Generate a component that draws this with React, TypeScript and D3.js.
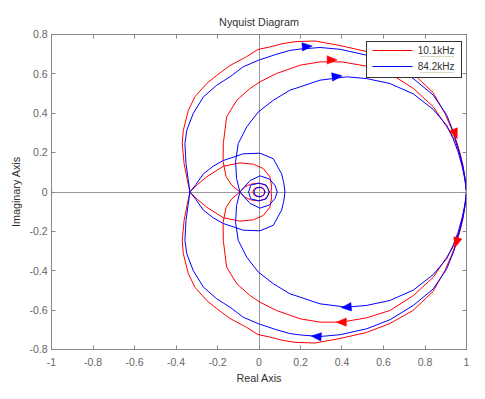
import { useEffect, useRef } from 'react';
import * as d3 from 'd3';

type Pt = [number, number];

// Positive-frequency (lower half) branches.
// The upper half of a Nyquist diagram is the complex conjugate of these.
const redOuter: Pt[] = [
  [1, 0], [0.993, -0.069], [0.983, -0.135], [0.969, -0.196], [0.952, -0.256], [0.925, -0.328],
  [0.896, -0.399], [0.839, -0.505], [0.742, -0.602], [0.631, -0.668], [0.516, -0.714],
  [0.39, -0.744], [0.27, -0.767], [0.178, -0.764], [0.116, -0.754], [0.053, -0.737],
  [-0.005, -0.724], [-0.059, -0.688], [-0.14, -0.642], [-0.204, -0.592], [-0.252, -0.551],
  [-0.308, -0.485], [-0.341, -0.414], [-0.365, -0.312], [-0.37, -0.246], [-0.361, -0.145],
  [-0.347, -0.069], [-0.333, 0],
];
const redInner: Pt[] = [
  [1, 0], [0.993, -0.058], [0.983, -0.119], [0.969, -0.185], [0.945, -0.263], [0.905, -0.331],
  [0.84, -0.433], [0.744, -0.526], [0.631, -0.602], [0.519, -0.639], [0.399, -0.661],
  [0.294, -0.661], [0.198, -0.644], [0.085, -0.602], [0.005, -0.56], [-0.043, -0.526],
  [-0.107, -0.466], [-0.156, -0.382], [-0.172, -0.246], [-0.173, -0.155], [-0.159, -0.079],
  [-0.13, -0.033], [-0.092, 0],
];
const redLens: Pt[] = [
  [-0.333, 0], [-0.299, -0.036], [-0.252, -0.077], [-0.172, -0.131], [-0.092, -0.148],
  [-0.027, -0.141], [0.021, -0.119], [0.053, -0.077], [0.061, -0.026], [0.058, 0],
];
const redLoop: Pt[] = [
  [-0.092, 0], [-0.07, -0.025], [-0.04, -0.04], [0, -0.045], [0.03, -0.035], [0.045, -0.015], [0.048, 0],
];
const redCore: Pt[] = [
  [-0.03, 0], [-0.022, -0.018], [0, -0.024], [0.02, -0.018], [0.03, 0],
];

const blueOuter: Pt[] = [
  [1, 0], [0.993, -0.069], [0.983, -0.13], [0.969, -0.19], [0.953, -0.246], [0.94, -0.297],
  [0.905, -0.39], [0.84, -0.492], [0.744, -0.576], [0.631, -0.649], [0.519, -0.695],
  [0.39, -0.725], [0.294, -0.734], [0.198, -0.726], [0.149, -0.719], [0.085, -0.7],
  [-0.003, -0.669], [-0.076, -0.636], [-0.14, -0.585], [-0.204, -0.542], [-0.268, -0.483],
  [-0.317, -0.399], [-0.348, -0.314], [-0.357, -0.246], [-0.352, -0.145], [-0.342, -0.069],
  [-0.333, 0],
];
const blueInner: Pt[] = [
  [1, 0], [0.993, -0.063], [0.978, -0.135], [0.959, -0.206], [0.935, -0.272], [0.905, -0.338],
  [0.84, -0.419], [0.744, -0.498], [0.631, -0.551], [0.519, -0.576], [0.423, -0.585],
  [0.294, -0.568], [0.198, -0.534], [0.149, -0.517], [0.069, -0.466], [-0.003, -0.407],
  [-0.059, -0.331], [-0.1, -0.246], [-0.113, -0.155], [-0.108, -0.069], [-0.092, 0],
];
const blueLoop: Pt[] = [
  [-0.333, 0], [-0.304, -0.038], [-0.268, -0.092], [-0.222, -0.13], [-0.172, -0.16],
  [-0.076, -0.194], [0.005, -0.197], [0.069, -0.169], [0.109, -0.092], [0.12, -0.043], [0.125, 0],
];
const blueMid: Pt[] = [
  [-0.092, 0], [-0.067, -0.03], [-0.043, -0.058], [0.005, -0.082], [0.05, -0.066], [0.078, -0.032], [0.088, 0],
];
const blueSmall: Pt[] = [
  [-0.05, 0], [-0.04, -0.035], [0, -0.045], [0.035, -0.035], [0.05, 0],
];
const blueCore: Pt[] = [
  [-0.025, 0], [-0.015, -0.02], [0.01, -0.025], [0.025, -0.012], [0.028, 0],
];

const seriesNames = ['10.1kHz', '84.2kHz'];
const seriesColors = ['#ff0000', '#0000ff'];
const redCurves = [redOuter, redInner, redLens, redLoop, redCore];
const blueCurves = [blueOuter, blueInner, blueLoop, blueMid, blueSmall, blueCore];

// arrow positions; direction comes from the curve
const redArrows: { at: Pt; curve: Pt[] }[] = [
  { at: [0.945, 0.297], curve: redOuter },
  { at: [0.35, 0.671], curve: redInner },
  { at: [0.952, -0.255], curve: redOuter },
  { at: [0.399, -0.661], curve: redInner },
];
const blueArrows: { at: Pt; curve: Pt[] }[] = [
  { at: [0.23, 0.739], curve: blueOuter },
  { at: [0.374, 0.587], curve: blueInner },
  { at: [0.278, -0.734], curve: blueOuter },
  { at: [0.423, -0.585], curve: blueInner },
];

const xTicks = [-1, -0.8, -0.6, -0.4, -0.2, 0, 0.2, 0.4, 0.6, 0.8, 1];
const yTicks = [-0.8, -0.6, -0.4, -0.2, 0, 0.2, 0.4, 0.6, 0.8];

const W = 485;
const H = 399;
const margin = { left: 51.5, right: 18.5, top: 34.5, bottom: 49.5 };
const font = 'Arial, Liberation Sans, sans-serif';

const App = () => {
  const svgRef = useRef<SVGSVGElement>(null);

  useEffect(() => {
    if (!svgRef.current) return;
    const svg = d3.select(svgRef.current);
    svg.selectAll('*').remove();

    const x = d3.scaleLinear().domain([-1, 1]).range([margin.left, W - margin.right]);
    const y = d3.scaleLinear().domain([-0.8, 0.8]).range([H - margin.bottom, margin.top]);
    const [x0, x1] = x.range();
    const [y0, y1] = [y(0.8), y(-0.8)];
    const crisp = (v: number) => Math.floor(v) + 0.5;

    svg.append('rect').attr('width', W).attr('height', H).attr('fill', '#fff');

    svg.append('defs').append('clipPath').attr('id', 'plot-clip')
      .append('rect').attr('x', x0).attr('y', y0).attr('width', x1 - x0).attr('height', y1 - y0);

    const plot = svg.append('g').attr('clip-path', 'url(#plot-clip)');

    // axes through the origin
    plot.append('line').attr('x1', x0).attr('x2', x1).attr('y1', crisp(y(0))).attr('y2', crisp(y(0)))
      .attr('stroke', '#9a9a9a').attr('stroke-width', 1);
    plot.append('line').attr('x1', crisp(x(0))).attr('x2', crisp(x(0))).attr('y1', y0).attr('y2', y1)
      .attr('stroke', '#9a9a9a').attr('stroke-width', 1);

    const line = d3.line<Pt>().x(d => x(d[0])).y(d => y(d[1]));
    const mirror = (c: Pt[]): Pt[] => c.map(d => [d[0], -d[1]] as Pt);

    const drawSet = (curves: Pt[][], color: string) => {
      curves.forEach(c => {
        [c, mirror(c)].forEach(p => {
          plot.append('path').attr('d', line(p)).attr('fill', 'none')
            .attr('stroke', color).attr('stroke-width', 1).attr('stroke-linejoin', 'round');
        });
      });
    };
    drawSet(redCurves, seriesColors[0]);
    drawSet(blueCurves, seriesColors[1]);

    // arrowheads: tangent of nearest segment, upper half runs back towards (1,0)
    const drawArrows = (list: { at: Pt; curve: Pt[] }[], color: string) => {
      list.forEach(a => {
        const upper = a.at[1] > 0;
        const c = upper ? mirror(a.curve) : a.curve;
        let best = 0;
        let bestD = Infinity;
        for (let i = 0; i < c.length - 1; i++) {
          const mx = (c[i][0] + c[i + 1][0]) / 2;
          const my = (c[i][1] + c[i + 1][1]) / 2;
          const dd = (mx - a.at[0]) ** 2 + (my - a.at[1]) ** 2;
          if (dd < bestD) { bestD = dd; best = i; }
        }
        let dx = x(c[best + 1][0]) - x(c[best][0]);
        let dy = y(c[best + 1][1]) - y(c[best][1]);
        if (upper) { dx = -dx; dy = -dy; }
        const ang = Math.atan2(dy, dx) * 180 / Math.PI;
        plot.append('path')
          .attr('d', 'M5.5,0 L-4.5,-4.2 L-4.5,4.2 Z')
          .attr('transform', `translate(${x(a.at[0])},${y(a.at[1])}) rotate(${ang})`)
          .attr('fill', color).attr('stroke', color).attr('stroke-width', 0.5);
      });
    };
    drawArrows(redArrows, seriesColors[0]);
    drawArrows(blueArrows, seriesColors[1]);

    // critical point marker
    plot.append('path').attr('d', `M${x(-1) - 3},${crisp(y(0))}h6M${x(-1)},${y(0) - 3}v6`)
      .attr('stroke', '#ff0000').attr('stroke-width', 1.2);

    // frame and ticks
    const axisColor = '#888';
    svg.append('rect').attr('x', x0).attr('y', y0).attr('width', x1 - x0).attr('height', y1 - y0)
      .attr('fill', 'none').attr('stroke', axisColor).attr('stroke-width', 1);
    const tk = 4;
    xTicks.forEach(t => {
      const px = crisp(x(t));
      svg.append('line').attr('x1', px).attr('x2', px).attr('y1', y1).attr('y2', y1 - tk).attr('stroke', axisColor);
      svg.append('line').attr('x1', px).attr('x2', px).attr('y1', y0).attr('y2', y0 + tk).attr('stroke', axisColor);
      svg.append('text').attr('x', x(t)).attr('y', y1 + 16).attr('text-anchor', 'middle')
        .attr('font-family', font).attr('font-size', 10.5)
        .attr('fill', '#666').text(String(t));
    });
    yTicks.forEach(t => {
      const py = crisp(y(t));
      svg.append('line').attr('x1', x0).attr('x2', x0 + tk).attr('y1', py).attr('y2', py).attr('stroke', axisColor);
      svg.append('line').attr('x1', x1).attr('x2', x1 - tk).attr('y1', py).attr('y2', py).attr('stroke', axisColor);
      svg.append('text').attr('x', x0 - 4).attr('y', y(t) + 3.8).attr('text-anchor', 'end')
        .attr('font-family', font).attr('font-size', 10.5)
        .attr('fill', '#666').text(String(t));
    });

    // titles
    svg.append('text').attr('x', (x0 + x1) / 2).attr('y', 25.5).attr('text-anchor', 'middle')
      .attr('font-family', font).attr('font-size', 10.8).attr('fill', '#333').text('Nyquist Diagram');
    svg.append('text').attr('x', (x0 + x1) / 2).attr('y', 381.5).attr('text-anchor', 'middle')
      .attr('font-family', font).attr('font-size', 10.8).attr('fill', '#333').text('Real Axis');
    svg.append('text').attr('transform', `translate(19.5,${(y0 + y1) / 2}) rotate(-90)`)
      .attr('text-anchor', 'middle')
      .attr('font-family', font).attr('font-size', 10.8).attr('fill', '#333').text('Imaginary Axis');

    // legend
    const lg = svg.append('g').attr('transform', 'translate(366.5,41.5)');
    lg.append('rect').attr('width', 95).attr('height', 36).attr('fill', '#fff')
      .attr('stroke', '#333').attr('stroke-width', 1);
    seriesNames.forEach((name, i) => {
      const ly = 9 + i * 16;
      lg.append('line').attr('x1', 6).attr('x2', 46).attr('y1', ly).attr('y2', ly)
        .attr('stroke', seriesColors[i]).attr('stroke-width', 1);
      lg.append('text').attr('x', 88).attr('y', ly + 3.5).attr('text-anchor', 'end')
        .attr('font-family', font).attr('font-size', 10).attr('fill', '#333').text(name);
      lg.append('line').attr('x1', 54).attr('x2', 88).attr('y1', ly + 6).attr('y2', ly + 6)
        .attr('stroke', '#8a9a5a').attr('stroke-width', 1).attr('stroke-dasharray', '1,1')
        .attr('opacity', 0.7);
    });
  }, []);

  return (
    <div style={{ position: 'fixed', left: 0, top: 0, width: W, height: H }}>
      <svg ref={svgRef} width={W} height={H} style={{ display: 'block' }} />
    </div>
  );
};

export default App;
